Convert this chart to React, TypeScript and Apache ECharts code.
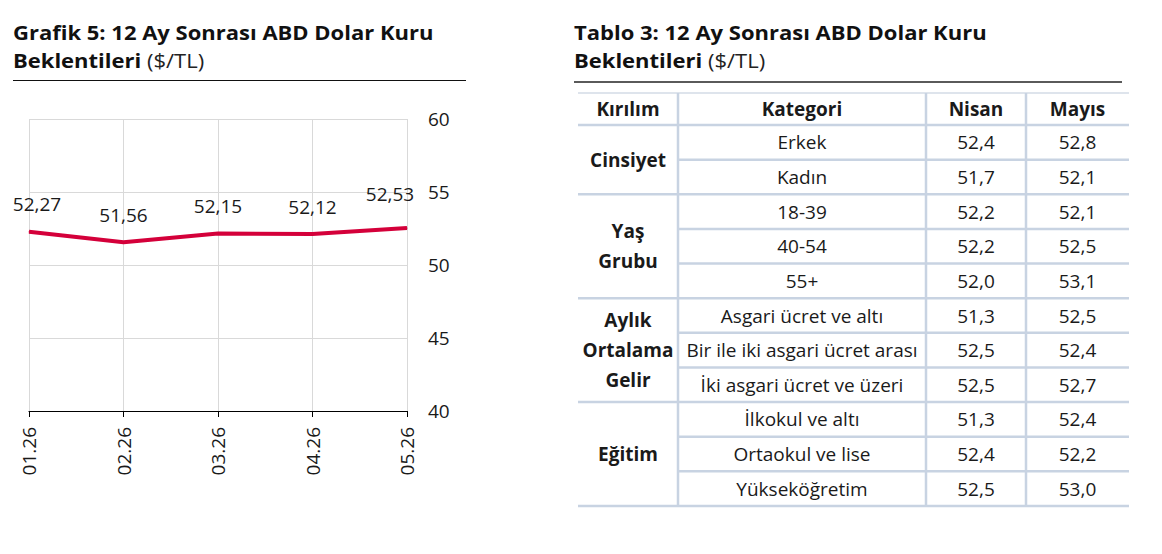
import { useEffect, useRef } from "react";
import * as echarts from "echarts";

// Grafik 5 verisi
const months = ["01.26", "02.26", "03.26", "04.26", "05.26"];
const usdExpectation = [52.27, 51.56, 52.15, 52.12, 52.53];

// Tablo 3 verisi
const tableHeaders = ["Kırılım", "Kategori", "Nisan", "Mayıs"];
const breakdownGroups = ["Cinsiyet", "Yaş\nGrubu", "Aylık\nOrtalama\nGelir", "Eğitim"];
const groupSizes = [2, 3, 3, 3];
const categories = [
  "Erkek",
  "Kadın",
  "18-39",
  "40-54",
  "55+",
  "Asgari ücret ve altı",
  "Bir ile iki asgari ücret arası",
  "İki asgari ücret ve üzeri",
  "İlkokul ve altı",
  "Ortaokul ve lise",
  "Yükseköğretim",
];
const aprilValues = [52.4, 51.7, 52.2, 52.2, 52.0, 51.3, 52.5, 52.5, 51.3, 52.4, 52.5];
const mayValues = [52.8, 52.1, 52.1, 52.5, 53.1, 52.5, 52.4, 52.7, 52.4, 52.2, 53.0];

const FONT = "'Open Sans', 'Noto Sans', sans-serif";
const TEXT = "#1a1a1a";
const RED = "#d4003a";
const RULE = "#c8d3e2";

const fmt = (v: number, d: number) => v.toFixed(d).replace(".", ",");

function buildTable(): any[] {
  const els: any[] = [];
  const colX = [578, 678, 926, 1026, 1129];
  const headTop = 93;
  const headBottom = 125;
  const rowH = (506 - headBottom) / categories.length;

  const text = (x: number, y: number, t: string, bold = false, lh = 30) => ({
    type: "text",
    x,
    y,
    style: {
      text: t,
      fill: TEXT,
      font: `${bold ? "bold " : ""}19px ${FONT}`,
      align: "center",
      verticalAlign: "middle",
      lineHeight: lh,
    },
  });
  const hline = (x1: number, x2: number, y: number, w = 2.5, c = RULE) => ({
    type: "line",
    shape: { x1, y1: y, x2, y2: y },
    style: { stroke: c, lineWidth: w },
  });

  // header
  tableHeaders.forEach((h, i) => {
    els.push(text((colX[i] + colX[i + 1]) / 2, (headTop + headBottom) / 2, h, true, 24));
  });

  // rows
  categories.forEach((c, i) => {
    const cy = headBottom + rowH * (i + 0.5);
    els.push(text((colX[1] + colX[2]) / 2, cy, c, false, 24));
    els.push(text((colX[2] + colX[3]) / 2, cy, fmt(aprilValues[i], 1), false, 24));
    els.push(text((colX[3] + colX[4]) / 2, cy, fmt(mayValues[i], 1), false, 24));
  });

  // groups
  let start = 0;
  breakdownGroups.forEach((g, gi) => {
    const end = start + groupSizes[gi];
    const y1 = headBottom + rowH * start;
    const y2 = headBottom + rowH * end;
    els.push(text((colX[0] + colX[1]) / 2, (y1 + y2) / 2, g, true, 30));
    for (let r = start + 1; r < end; r++) {
      els.push(hline(colX[1], colX[4], headBottom + rowH * r));
    }
    els.push(hline(colX[0], colX[4], y2));
    start = end;
  });

  els.push(hline(colX[0], colX[4], headTop, 1.5, "#d3dbe6"));
  els.push(hline(colX[0], colX[4], headBottom));

  [1, 2, 3].forEach((i) => {
    els.push({
      type: "line",
      shape: { x1: colX[i], y1: headTop, x2: colX[i], y2: 506 },
      style: { stroke: RULE, lineWidth: 2.5 },
    });
  });

  return els;
}

// iki satırlı başlık; yatayda biraz genişletilmiş
function titleBlock(x: number, line1: string, line2: string, rule: any): any[] {
  return [
    {
      type: "text",
      x,
      y: 46.5,
      scaleX: 1.1,
      style: {
        text: `{b|${line1}}\n{b|${line2}}{r| ($/TL)}`,
        verticalAlign: "middle",
        lineHeight: 27.5,
        rich: {
          b: { fill: "#111", font: `bold 20px ${FONT}`, lineHeight: 27.5 },
          r: { fill: "#222", font: `20px ${FONT}`, lineHeight: 27.5 },
        },
      },
    },
    rule,
  ];
}

export default function App() {
  const ref = useRef<HTMLDivElement | null>(null);

  useEffect(() => {
    if (!ref.current) {
      return;
    }

    const chart = echarts.init(ref.current, undefined, { renderer: "svg" });
    const last = usdExpectation.length - 1;

    chart.setOption({
      animation: false,
      backgroundColor: "#ffffff",
      textStyle: { fontFamily: FONT },
      grid: { left: 29, right: 755, top: 119, bottom: 143 },
      xAxis: {
        type: "category",
        data: months,
        boundaryGap: false,
        axisLine: { lineStyle: { color: "#000", width: 1.2 } },
        axisTick: { show: true, length: 6, lineStyle: { color: "#000" } },
        splitLine: { show: true, lineStyle: { color: "#d9d9d9", width: 1 } },
        axisLabel: {
          rotate: 90,
          margin: 16,
          fontSize: 19,
          color: TEXT,
          fontFamily: FONT,
        },
      },
      yAxis: {
        type: "value",
        position: "right",
        min: 40,
        max: 60,
        interval: 5,
        axisLine: { show: false },
        axisTick: { show: false },
        splitLine: { lineStyle: { color: "#d9d9d9", width: 1 } },
        axisLabel: { margin: 21, fontSize: 19, color: TEXT, fontFamily: FONT },
      },
      series: [
        {
          type: "line",
          data: usdExpectation.map((v, i) => ({
            value: v,
            label: {
              offset: i === 0 ? [8, 0] : i === last ? [-17, -7] : [0, 0],
            },
          })),
          symbol: "circle",
          symbolSize: 1,
          showSymbol: true,
          itemStyle: { color: RED },
          lineStyle: { color: RED, width: 4 },
          label: {
            show: true,
            position: "top",
            distance: 17,
            fontSize: 19,
            lineHeight: 20,
            color: TEXT,
            fontFamily: FONT,
            formatter: (p: any) => fmt(p.value, 2),
          },
        },
      ],
      graphic: [
        ...titleBlock(13, "Grafik 5: 12 Ay Sonrası ABD Dolar Kuru", "Beklentileri", {
          type: "line",
          shape: { x1: 13, y1: 80.5, x2: 466, y2: 80.5 },
          style: { stroke: "#111", lineWidth: 1.2 },
        }),
        ...titleBlock(574, "Tablo 3: 12 Ay Sonrası ABD Dolar Kuru", "Beklentileri", {
          type: "line",
          shape: { x1: 574, y1: 82, x2: 1122, y2: 82 },
          style: { stroke: "#5a5a5a", lineWidth: 2 },
        }),
        ...buildTable(),
      ],
    });

    return () => {
      chart.dispose();
    };
  }, []);

  return (
    <div
      ref={ref}
      style={{ position: "absolute", left: 0, top: 0, width: 1162, height: 554 }}
    />
  );
}
